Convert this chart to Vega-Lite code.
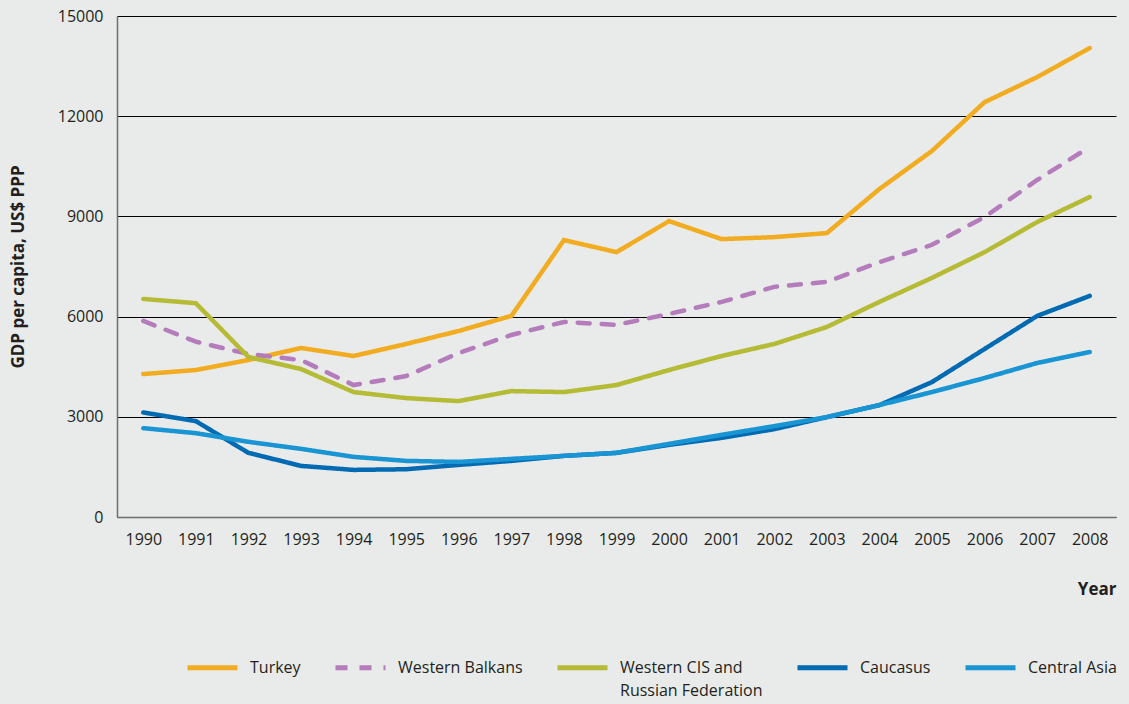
{
  "$schema": "https://vega.github.io/schema/vega-lite/v6.json",
  "width": 999,
  "height": 501,
  "autosize": {"type": "none"},
  "padding": {"left": 117, "top": 16, "right": 13, "bottom": 187},
  "background": "#e9ebea",
  "config": {
    "view": {"stroke": null},
    "font": "Open Sans",
    "axis": {"labelFont": "Open Sans", "titleFont": "Open Sans", "labelColor": "#231f20", "titleColor": "#231f20"}
  },
  "data": {"values": [
    {"year": "1990", "region": "Turkey", "gdp": 4280},
    {"year": "1991", "region": "Turkey", "gdp": 4400},
    {"year": "1992", "region": "Turkey", "gdp": 4700},
    {"year": "1993", "region": "Turkey", "gdp": 5060},
    {"year": "1994", "region": "Turkey", "gdp": 4820},
    {"year": "1995", "region": "Turkey", "gdp": 5180},
    {"year": "1996", "region": "Turkey", "gdp": 5570},
    {"year": "1997", "region": "Turkey", "gdp": 6020},
    {"year": "1998", "region": "Turkey", "gdp": 8290},
    {"year": "1999", "region": "Turkey", "gdp": 7930},
    {"year": "2000", "region": "Turkey", "gdp": 8860},
    {"year": "2001", "region": "Turkey", "gdp": 8320},
    {"year": "2002", "region": "Turkey", "gdp": 8380},
    {"year": "2003", "region": "Turkey", "gdp": 8500},
    {"year": "2004", "region": "Turkey", "gdp": 9820},
    {"year": "2005", "region": "Turkey", "gdp": 10960},
    {"year": "2006", "region": "Turkey", "gdp": 12420},
    {"year": "2007", "region": "Turkey", "gdp": 13170},
    {"year": "2008", "region": "Turkey", "gdp": 14040},
    {"year": "1990", "region": "Western Balkans", "gdp": 5870},
    {"year": "1991", "region": "Western Balkans", "gdp": 5250},
    {"year": "1992", "region": "Western Balkans", "gdp": 4880},
    {"year": "1993", "region": "Western Balkans", "gdp": 4700},
    {"year": "1994", "region": "Western Balkans", "gdp": 3950},
    {"year": "1995", "region": "Western Balkans", "gdp": 4220},
    {"year": "1996", "region": "Western Balkans", "gdp": 4910},
    {"year": "1997", "region": "Western Balkans", "gdp": 5450},
    {"year": "1998", "region": "Western Balkans", "gdp": 5840},
    {"year": "1999", "region": "Western Balkans", "gdp": 5750},
    {"year": "2000", "region": "Western Balkans", "gdp": 6080},
    {"year": "2001", "region": "Western Balkans", "gdp": 6440},
    {"year": "2002", "region": "Western Balkans", "gdp": 6890},
    {"year": "2003", "region": "Western Balkans", "gdp": 7040},
    {"year": "2004", "region": "Western Balkans", "gdp": 7630},
    {"year": "2005", "region": "Western Balkans", "gdp": 8150},
    {"year": "2006", "region": "Western Balkans", "gdp": 8980},
    {"year": "2007", "region": "Western Balkans", "gdp": 10090},
    {"year": "2008", "region": "Western Balkans", "gdp": 11080},
    {"year": "1990", "region": "Western CIS and Russian Federation", "gdp": 6530},
    {"year": "1991", "region": "Western CIS and Russian Federation", "gdp": 6400},
    {"year": "1992", "region": "Western CIS and Russian Federation", "gdp": 4790},
    {"year": "1993", "region": "Western CIS and Russian Federation", "gdp": 4430},
    {"year": "1994", "region": "Western CIS and Russian Federation", "gdp": 3740},
    {"year": "1995", "region": "Western CIS and Russian Federation", "gdp": 3560},
    {"year": "1996", "region": "Western CIS and Russian Federation", "gdp": 3470},
    {"year": "1997", "region": "Western CIS and Russian Federation", "gdp": 3770},
    {"year": "1998", "region": "Western CIS and Russian Federation", "gdp": 3740},
    {"year": "1999", "region": "Western CIS and Russian Federation", "gdp": 3950},
    {"year": "2000", "region": "Western CIS and Russian Federation", "gdp": 4400},
    {"year": "2001", "region": "Western CIS and Russian Federation", "gdp": 4820},
    {"year": "2002", "region": "Western CIS and Russian Federation", "gdp": 5180},
    {"year": "2003", "region": "Western CIS and Russian Federation", "gdp": 5690},
    {"year": "2004", "region": "Western CIS and Russian Federation", "gdp": 6440},
    {"year": "2005", "region": "Western CIS and Russian Federation", "gdp": 7160},
    {"year": "2006", "region": "Western CIS and Russian Federation", "gdp": 7930},
    {"year": "2007", "region": "Western CIS and Russian Federation", "gdp": 8830},
    {"year": "2008", "region": "Western CIS and Russian Federation", "gdp": 9580},
    {"year": "1990", "region": "Caucasus", "gdp": 3130},
    {"year": "1991", "region": "Caucasus", "gdp": 2870},
    {"year": "1992", "region": "Caucasus", "gdp": 1920},
    {"year": "1993", "region": "Caucasus", "gdp": 1530},
    {"year": "1994", "region": "Caucasus", "gdp": 1410},
    {"year": "1995", "region": "Caucasus", "gdp": 1430},
    {"year": "1996", "region": "Caucasus", "gdp": 1560},
    {"year": "1997", "region": "Caucasus", "gdp": 1680},
    {"year": "1998", "region": "Caucasus", "gdp": 1830},
    {"year": "1999", "region": "Caucasus", "gdp": 1920},
    {"year": "2000", "region": "Caucasus", "gdp": 2160},
    {"year": "2001", "region": "Caucasus", "gdp": 2370},
    {"year": "2002", "region": "Caucasus", "gdp": 2630},
    {"year": "2003", "region": "Caucasus", "gdp": 2990},
    {"year": "2004", "region": "Caucasus", "gdp": 3350},
    {"year": "2005", "region": "Caucasus", "gdp": 4040},
    {"year": "2006", "region": "Caucasus", "gdp": 5030},
    {"year": "2007", "region": "Caucasus", "gdp": 6020},
    {"year": "2008", "region": "Caucasus", "gdp": 6620},
    {"year": "1990", "region": "Central Asia", "gdp": 2660},
    {"year": "1991", "region": "Central Asia", "gdp": 2510},
    {"year": "1992", "region": "Central Asia", "gdp": 2250},
    {"year": "1993", "region": "Central Asia", "gdp": 2040},
    {"year": "1994", "region": "Central Asia", "gdp": 1800},
    {"year": "1995", "region": "Central Asia", "gdp": 1680},
    {"year": "1996", "region": "Central Asia", "gdp": 1650},
    {"year": "1997", "region": "Central Asia", "gdp": 1740},
    {"year": "1998", "region": "Central Asia", "gdp": 1830},
    {"year": "1999", "region": "Central Asia", "gdp": 1920},
    {"year": "2000", "region": "Central Asia", "gdp": 2190},
    {"year": "2001", "region": "Central Asia", "gdp": 2460},
    {"year": "2002", "region": "Central Asia", "gdp": 2720},
    {"year": "2003", "region": "Central Asia", "gdp": 2990},
    {"year": "2004", "region": "Central Asia", "gdp": 3350},
    {"year": "2005", "region": "Central Asia", "gdp": 3740},
    {"year": "2006", "region": "Central Asia", "gdp": 4160},
    {"year": "2007", "region": "Central Asia", "gdp": 4610},
    {"year": "2008", "region": "Central Asia", "gdp": 4940}
  ]},
  "mark": {"type": "line", "strokeWidth": 4.5, "strokeCap": "round"},
  "encoding": {
    "x": {
      "field": "year", "type": "ordinal",
      "scale": {"type": "point", "padding": 0.5},
      "axis": {
        "title": "Year", "titleFontSize": 17, "titleFontWeight": "bold",
        "titleAnchor": "end", "titleAlign": "right", "titleX": 999, "titleY": 72, "titleBaseline": "middle",
        "labelAngle": 0, "labelFontSize": 16, "labelPadding": 14, "ticks": false,
        "domainColor": "#6d6e70", "domainWidth": 1.5, "grid": false
      }
    },
    "y": {
      "field": "gdp", "type": "quantitative",
      "scale": {"domain": [0, 15000], "nice": false},
      "axis": {
        "title": "GDP per capita, US$ PPP", "titleFontSize": 17, "titleFontWeight": "bold", "titlePadding": 30,
        "values": [0, 3000, 6000, 9000, 12000, 15000], "format": "d",
        "labelFontSize": 16, "labelPadding": 14, "ticks": false,
        "domainColor": "#6d6e70", "domainWidth": 1.5,
        "grid": true, "gridColor": "#000000", "gridWidth": 1, "gridOpacity": 1
      }
    },
    "color": {
      "field": "region", "type": "nominal",
      "scale": {
        "domain": ["Turkey", "Western Balkans", "Western CIS and Russian Federation", "Caucasus", "Central Asia"],
        "range": ["#f2ac21", "#b57cbb", "#b5bb34", "#006ab2", "#1a95d4"]
      },
      "legend": {
        "title": null, "orient": "none", "direction": "horizontal",
        "legendX": 68, "legendY": 624,
        "symbolType": "stroke", "symbolSize": 2500, "symbolStrokeWidth": 5,
        "labelFontSize": 16, "labelColor": "#231f20", "labelFont": "Open Sans",
        "labelOffset": 10, "columnPadding": 24, "labelLimit": 300,
        "labelExpr": "datum.label == 'Western CIS and Russian Federation' ? ['Western CIS and', 'Russian Federation'] : [datum.label, '']",
        "encode": {
          "labels": {"update": {
            "lineHeight": {"value": 23}
          }}
        }
      }
    },
    "strokeDash": {
      "field": "region", "type": "nominal",
      "scale": {
        "domain": ["Turkey", "Western Balkans", "Western CIS and Russian Federation", "Caucasus", "Central Asia"],
        "range": [[1, 0], [12, 12], [1, 0], [1, 0], [1, 0]]
      },
      "legend": null
    }
  }
}
